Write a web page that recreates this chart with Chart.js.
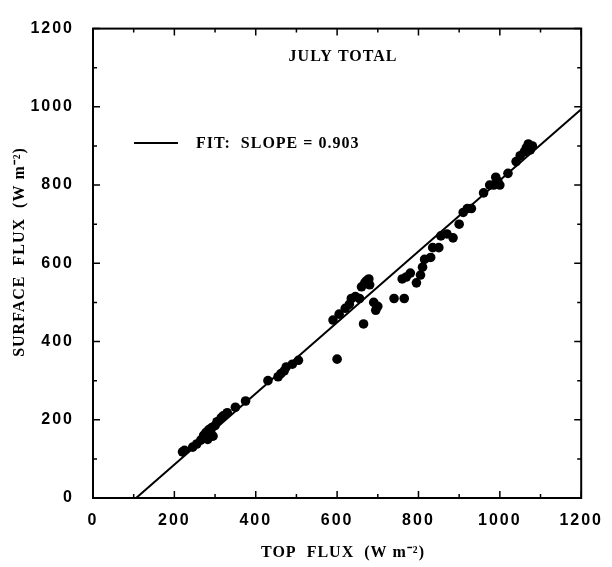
<!DOCTYPE html>
<html><head><meta charset="utf-8">
<script src="https://cdn.jsdelivr.net/npm/chart.js@4/dist/chart.umd.min.js"></script>
<style>html,body{margin:0;padding:0;background:#fff}</style>
</head><body>
<canvas id="c" width="612" height="567"></canvas>
<script>
const topFlux = [220,225,245,255,265,272,278,282,285,290,292,295,300,305,315,320,330,350,375,430,455,462,470,475,490,505,
  590,600,605,620,630,635,645,655,660,665,668,672,678,680,690,695,700,740,760,765,770,780,795,805,810,815,830,835,850,855,870,885,900,910,920,930,960,975,985,990,995,1000,1020,1040,1050,1060,1065,1070,1075,1080];
const surfaceFlux = [118,122,130,138,148,160,168,150,175,165,180,158,185,195,205,210,218,232,248,300,310,318,325,335,342,352,
  455,355,470,485,495,510,515,510,540,445,550,555,560,545,500,480,490,510,560,510,565,575,550,570,590,610,615,640,640,670,675,665,700,730,740,740,780,800,800,820,810,800,830,860,875,885,895,905,890,900];
const fitX = [106, 1200];
const fitY = [0, 994];
const xTickValues = [0,200,400,600,800,1000,1200];
const yTickValues = [0,200,400,600,800,1000,1200];
const chartTitle = 'JULY TOTAL';
const fitLabel = 'FIT:  SLOPE = 0.903';
const xTitle = 'TOP  FLUX  (W m⁻²)';
const yTitle = 'SURFACE  FLUX  (W m⁻²)';

const points = topFlux.map((x,i)=>({x, y: surfaceFlux[i]}));
const fitLine = fitX.map((x,i)=>({x, y: fitY[i]}));

const frame = {
  id: 'frame',
  beforeDraw(chart){ chart.ctx.letterSpacing = '2px'; },
  afterDraw(chart){
    const {ctx, chartArea:a, scales:{x, y}} = chart;
    ctx.save();
    ctx.letterSpacing = '0px';
    ctx.strokeStyle = '#000';
    ctx.lineWidth = 2;
    ctx.strokeRect(a.left, a.top, a.right - a.left, a.bottom - a.top);
    ctx.lineWidth = 1.5;
    for (let v = 0; v <= 1200; v += 100) {
      const len = (v % 200 === 0) ? 7 : 4;
      const px = x.getPixelForValue(v), py = y.getPixelForValue(v);
      ctx.beginPath();
      ctx.moveTo(px, a.bottom); ctx.lineTo(px, a.bottom - len);
      ctx.moveTo(px, a.top); ctx.lineTo(px, a.top + len);
      ctx.moveTo(a.left, py); ctx.lineTo(a.left + len, py);
      ctx.moveTo(a.right, py); ctx.lineTo(a.right - len, py);
      ctx.stroke();
    }
    ctx.fillStyle = '#000';
    ctx.font = 'bold 16px "Liberation Serif"';
    ctx.textAlign = 'center'; ctx.textBaseline = 'middle';
    ctx.letterSpacing = '1px';
    ctx.fillText(chartTitle, 343, 57);
    ctx.fillText(xTitle, 343, 553);
    ctx.save();
    ctx.translate(20, 252);
    ctx.rotate(-Math.PI/2);
    ctx.fillText(yTitle, 0, 0);
    ctx.restore();
    ctx.lineWidth = 2;
    ctx.beginPath(); ctx.moveTo(134, 143); ctx.lineTo(178, 143); ctx.stroke();
    ctx.textAlign = 'left';
    ctx.fillText(fitLabel, 196, 144);
    ctx.restore();
  }
};

const tickFont = { family: '"Liberation Sans"', weight: 'bold', size: 16 };
new Chart(document.getElementById('c'), {
  type: 'scatter',
  data: { datasets: [
    { data: points, backgroundColor: '#000', borderColor: '#000', pointRadius: 4.8, pointHoverRadius: 4.8, borderWidth: 0, showLine: false },
    { type: 'line', data: fitLine, borderColor: '#000', borderWidth: 2, pointRadius: 0, fill: false, tension: 0 }
  ]},
  options: {
    responsive: false, animation: false, devicePixelRatio: 1,
    layout: { padding: { top: 13, right: 22, left: 0, bottom: 0 } },
    plugins: { legend: { display: false }, tooltip: { enabled: false } },
    scales: {
      x: {
        type: 'linear', min: 0, max: 1200,
        afterBuildTicks(s){ s.ticks = xTickValues.map(v=>({value:v})); },
        afterFit(s){ s.height = 69; },
        grid: { display: false, drawTicks: false },
        border: { display: false },
        ticks: { color: '#000', padding: 13, font: tickFont, callback: v => String(v) }
      },
      y: {
        type: 'linear', min: 0, max: 1200,
        afterBuildTicks(s){ s.ticks = yTickValues.map(v=>({value:v})); },
        afterFit(s){ s.width = 93; },
        grid: { display: false, drawTicks: false },
        border: { display: false },
        ticks: { color: '#000', padding: 19, font: tickFont, callback: v => String(v) }
      }
    }
  },
  plugins: [frame]
});
</script>
</body></html>
